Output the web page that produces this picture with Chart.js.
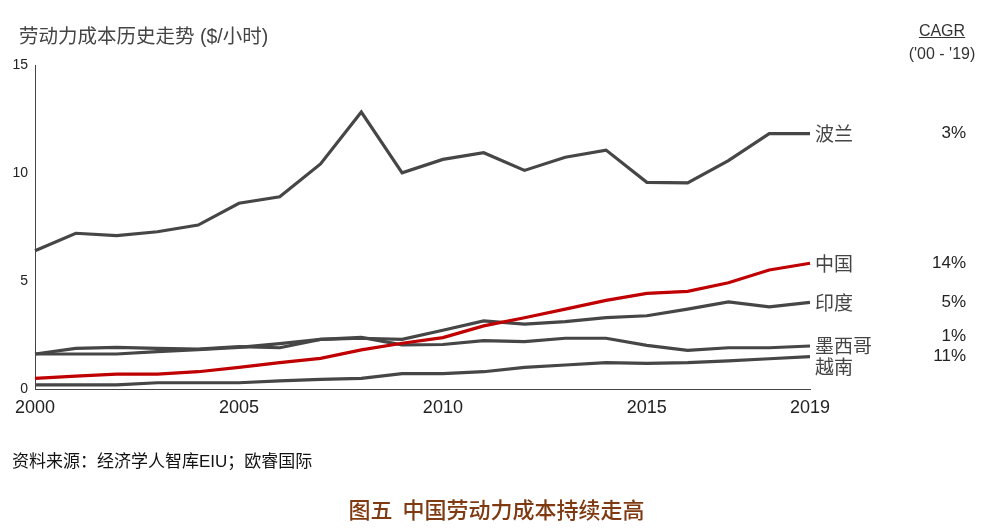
<!DOCTYPE html>
<html>
<head>
<meta charset="utf-8">
<script src="https://cdn.jsdelivr.net/npm/chart.js@4/dist/chart.umd.min.js"></script>
<style>
  body { margin: 0; background: #fff; }
  #wrap { position: relative; width: 993px; height: 529px; }
  #chart { position: absolute; left: 0; top: 0; }
  .txt { position: absolute; white-space: nowrap; font-family: "Liberation Sans", "Noto Sans CJK SC", sans-serif; }
</style>
</head>
<body>
<div id="wrap">
  <canvas id="chart" width="993" height="529"></canvas>
  <div class="txt" style="left:19px; top:20px; font-size:19.5px; color:#444;">劳动力成本历史走势 ($/小时)</div>
  <div class="txt" style="left:902px; top:22px; width:80px; text-align:center; font-size:16px; color:#333;"><span style="text-decoration:underline;">CAGR</span></div>
  <div class="txt" style="left:902px; top:45px; width:80px; text-align:center; font-size:16px; color:#333;">('00 - '19)</div>
  <div class="txt" style="left:12px; top:447px; font-size:17px; color:#111;">资料来源：经济学人智库EIU；欧睿国际</div>
  <div class="txt" style="left:0; top:492px; width:993px; text-align:center; font-size:22px; color:#7f3a12; font-family:'Noto Sans CJK SC', sans-serif; font-weight:500;">图五&nbsp; 中国劳动力成本持续走高</div>
</div>
<script>
const years = ['2000', '2001', '2002', '2003', '2004', '2005', '2006', '2007', '2008', '2009',
    '2010', '2011', '2012', '2013', '2014', '2015', '2016', '2017', '2018', '2019'];
const shownYears = ['2000', '2005', '2010', '2015', '2019'];
const yTicks = [0, 5, 10, 15];

const poland = [6.40, 7.21, 7.10, 7.28, 7.59, 8.60, 8.90, 10.42, 12.82, 10.01,
    10.63, 10.94, 10.12, 10.73, 11.06, 9.57, 9.54, 10.57, 11.82, 11.82];
const china = [0.49, 0.60, 0.69, 0.69, 0.80, 1.00, 1.22, 1.42, 1.81, 2.12,
    2.38, 2.92, 3.30, 3.70, 4.10, 4.43, 4.52, 4.92, 5.51, 5.82];
const india = [1.62, 1.62, 1.62, 1.73, 1.82, 1.93, 2.10, 2.30, 2.35, 2.30,
    2.72, 3.15, 3.00, 3.12, 3.30, 3.39, 3.70, 4.03, 3.80, 4.01];
const mexico = [1.62, 1.88, 1.93, 1.88, 1.85, 1.96, 1.91, 2.30, 2.39, 2.04,
    2.06, 2.24, 2.19, 2.35, 2.35, 2.02, 1.79, 1.91, 1.91, 1.99];
const vietnam = [0.19, 0.19, 0.19, 0.29, 0.29, 0.29, 0.38, 0.45, 0.49, 0.71,
    0.71, 0.80, 1.00, 1.11, 1.22, 1.19, 1.22, 1.30, 1.40, 1.50];

const seriesNames = ['波兰', '中国', '印度', '墨西哥', '越南'];
const cagr = ['3%', '14%', '5%', '1%', '11%'];
// vertical nudges (px) so the end labels do not collide
const nameShift = [0, 0, 0, 0, 10];
const cagrShift = [0, 0, 0, -10, 0];

const grey = '#464646';
const red = '#c00000';

function line(label, data, color) {
    return {
        label: label,
        data: data,
        borderColor: color,
        backgroundColor: color,
        borderWidth: 3.2,
        pointRadius: 0,
        tension: 0
    };
}

// writes country names and CAGR next to the last point of each line
const endLabels = {
    id: 'endLabels',
    afterDatasetsDraw(chart) {
        const c = chart.ctx;
        const x = chart.scales.x;
        const y = chart.scales.y;
        const last = years.length - 1;
        c.save();
        c.textBaseline = 'middle';
        chart.data.datasets.forEach((ds, i) => {
            const py = y.getPixelForValue(ds.data[last]);
            c.fillStyle = '#444';
            c.textAlign = 'left';
            c.font = '19px "Noto Sans CJK SC", sans-serif';
            c.fillText(seriesNames[i], x.getPixelForValue(last) + 5, py + nameShift[i]);
            c.fillStyle = '#222';
            c.textAlign = 'right';
            c.font = '17px "Liberation Sans", sans-serif';
            c.fillText(cagr[i], 966, py + cagrShift[i]);
        });
        c.restore();
    }
};

const ctx = document.getElementById('chart').getContext('2d');
const chart = new Chart(ctx, {
    type: 'line',
    data: {
        labels: years,
        datasets: [
            line('波兰', poland, grey),
            line('中国', china, red),
            line('印度', india, grey),
            line('墨西哥', mexico, grey),
            line('越南', vietnam, grey)
        ]
    },
    options: {
        responsive: false,
        animation: false,
        layout: { padding: { left: 0, top: 65, right: 183, bottom: 110 } },
        plugins: {
            legend: { display: false },
            tooltip: { enabled: false }
        },
        scales: {
            x: {
                offset: false,
                grid: { display: false, drawTicks: false },
                border: { display: true, color: '#444', width: 1 },
                ticks: {
                    autoSkip: false,
                    maxRotation: 0,
                    padding: 8,
                    color: '#222',
                    font: { family: '"Liberation Sans"', size: 18 },
                    callback: function (v) {
                        const l = this.getLabelForValue(v);
                        return shownYears.includes(l) ? l : '';
                    }
                },
                afterFit(s) { s.height = 30; }
            },
            y: {
                min: 0,
                max: 15,
                afterBuildTicks(s) { s.ticks = yTicks.map(v => ({ value: v })); },
                grid: { display: false, drawTicks: false },
                border: { display: true, color: '#444', width: 1 },
                ticks: {
                    padding: 7,
                    color: '#222',
                    font: { family: '"Liberation Sans"', size: 14 }
                },
                afterFit(s) { s.width = 35; }
            }
        }
    },
    plugins: [endLabels]
});
</script>
</body>
</html>
